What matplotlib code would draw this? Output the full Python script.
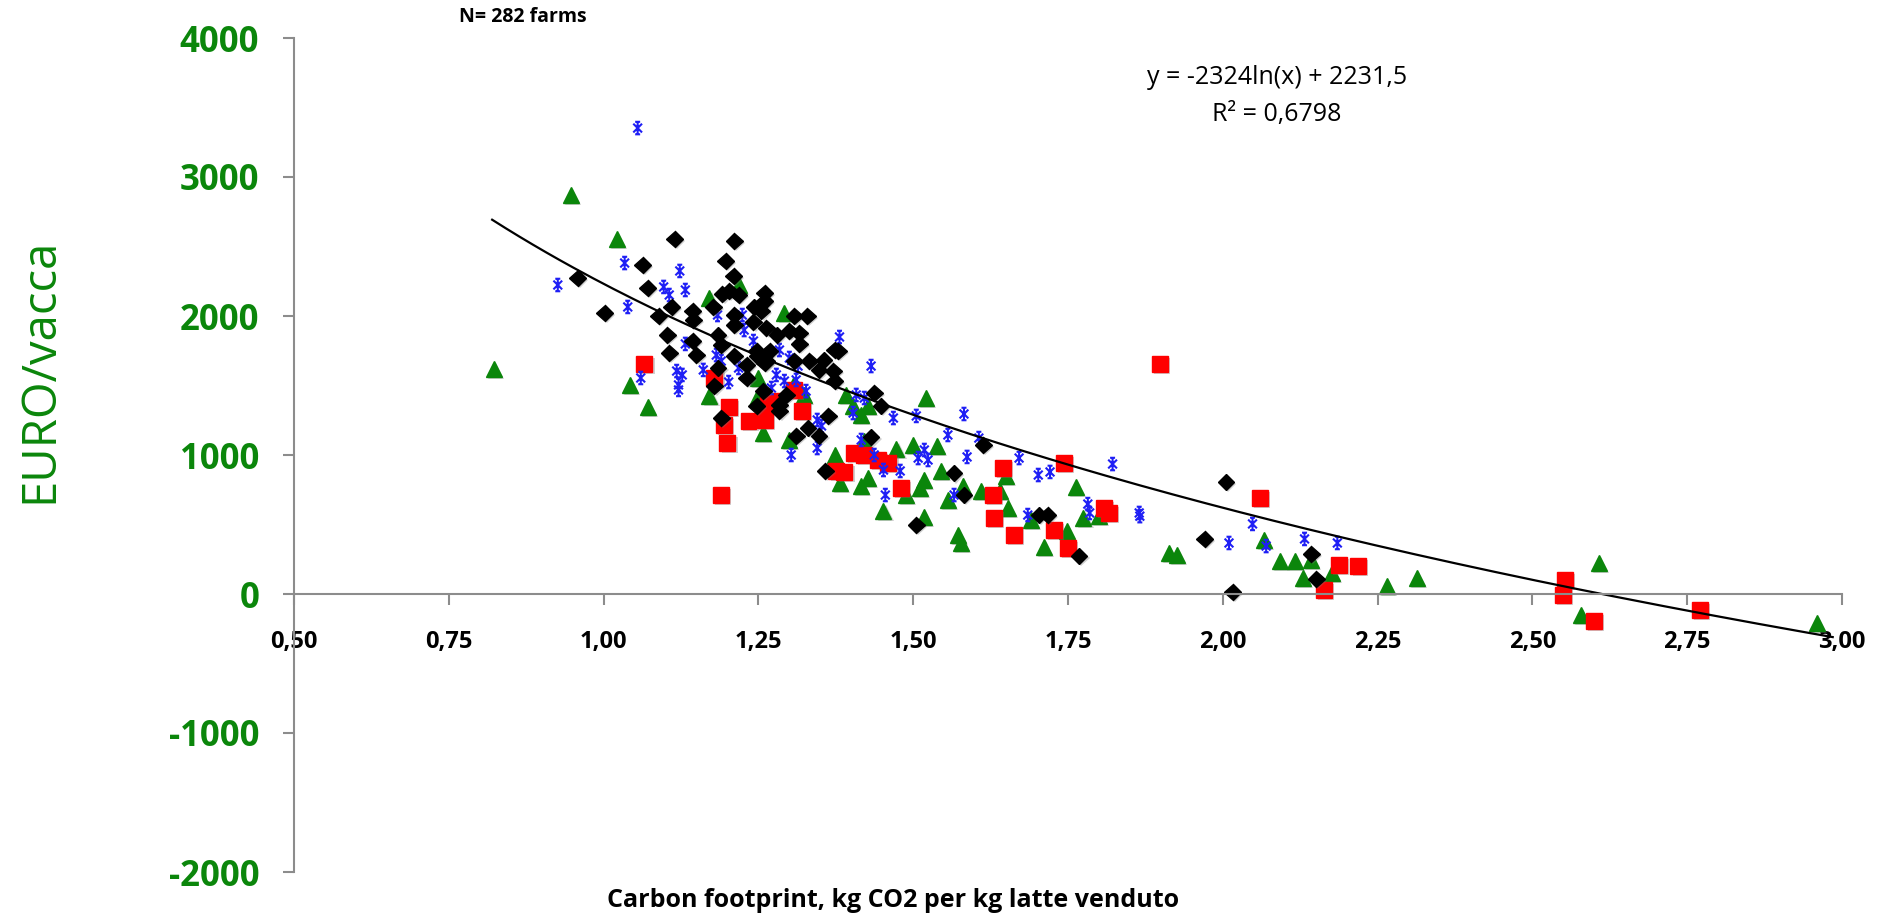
import numpy as np
import matplotlib
matplotlib.use("Agg")
from matplotlib import pyplot as plt
from matplotlib import patheffects as pe
from matplotlib.path import Path

plt.rcParams['font.family'] = ['Open Sans', 'DejaVu Sans']

# green triangles
g_x = [0.823, 0.947, 1.021, 1.042, 1.071, 1.171, 1.218, 1.171, 1.250, 1.247, 1.258, 1.292, 1.306, 1.323, 1.300,
       1.373, 1.381, 1.392, 1.403, 1.416, 1.427, 1.415, 1.427, 1.421, 1.452, 1.473, 1.489, 1.500, 1.511, 1.518,
       1.521, 1.539, 1.545, 1.556, 1.518, 1.573, 1.577, 1.580, 1.610, 1.640, 1.650, 1.653, 1.690, 1.711, 1.748,
       1.763, 1.775, 1.800, 1.913, 1.926, 2.066, 2.093, 2.116, 2.129, 2.143, 2.177, 2.265, 2.313, 2.579, 2.607,
       2.960]
g_y = [1619, 2870, 2554, 1504, 1345, 2129, 2223, 1424, 1554, 1410, 1158, 2022, 1496, 1432, 1108,
       1000, 799, 1432, 1353, 1288, 1353, 777, 834, 1100, 597, 1043, 712, 1072, 763, 820,
       1410, 1065, 885, 676, 554, 424, 367, 777, 741, 741, 849, 619, 532, 338, 453,
       770, 547, 561, 295, 281, 388, 237, 237, 115, 245, 151, 58, 115, -151, 223,
       -209]

# red squares
r_x = [1.066, 1.179, 1.190, 1.195, 1.200, 1.203, 1.234, 1.260, 1.266, 1.276, 1.308, 1.321, 1.376, 1.389,
       1.405, 1.420, 1.443, 1.460, 1.480, 1.629, 1.630, 1.645, 1.663, 1.727, 1.743, 1.750, 1.808, 1.816,
       1.898, 2.060, 2.163, 2.187, 2.219, 2.550, 2.553, 2.600, 2.770]
r_y = [1655, 1554, 712, 1216, 1086, 1345, 1245, 1252, 1360, 1388, 1468, 1317, 885, 878,
       1014, 1000, 964, 942, 763, 712, 547, 906, 424, 460, 942, 331, 619, 583,
       1655, 691, 29, 209, 201, -7, 101, -194, -115]

# black diamonds
k_x = [0.958, 1.002, 1.063, 1.071, 1.089, 1.103, 1.106, 1.110, 1.115, 1.144, 1.145, 1.144, 1.150, 1.177,
       1.179, 1.185, 1.185, 1.190, 1.190, 1.192, 1.197, 1.203, 1.210, 1.211, 1.211, 1.211, 1.211, 1.218,
       1.231, 1.231, 1.242, 1.243, 1.247, 1.247, 1.248, 1.255, 1.258, 1.260, 1.260, 1.260, 1.263, 1.263,
       1.268, 1.280, 1.284, 1.284, 1.295, 1.300, 1.308, 1.308, 1.311, 1.316, 1.316, 1.329, 1.330, 1.332,
       1.348, 1.348, 1.356, 1.358, 1.363, 1.371, 1.373, 1.373, 1.379, 1.432, 1.437, 1.448, 1.505, 1.566,
       1.582, 1.613, 1.703, 1.717, 1.768, 1.971, 2.005, 2.016, 2.143, 2.151]
k_y = [2273, 2022, 2367, 2201, 2000, 1863, 1734, 2065, 2554, 2036, 1971, 1820, 1719, 2065,
       1496, 1863, 1626, 1791, 1266, 2158, 2396, 2180, 2288, 2540, 2007, 1712, 1935, 2151,
       1647, 1554, 1957, 2065, 1748, 1353, 1712, 2036, 1460, 2165, 2108, 1662, 1914, 1676,
       1748, 1863, 1360, 1317, 1432, 1892, 2000, 1676, 1137, 1799, 1878, 2000, 1194, 1676,
       1612, 1137, 1683, 885, 1281, 1604, 1755, 1532, 1748, 1129, 1446, 1353, 496, 870,
       712, 1072, 568, 568, 273, 396, 806, 14, 288, 108]

# blue asterisks
b_x = [0.926, 1.034, 1.039, 1.055, 1.060, 1.097, 1.106, 1.118, 1.121, 1.121, 1.123, 1.127, 1.132, 1.132,
       1.161, 1.182, 1.184, 1.190, 1.202, 1.218, 1.224, 1.227, 1.242, 1.271, 1.279, 1.284, 1.292, 1.300,
       1.303, 1.311, 1.314, 1.327, 1.345, 1.345, 1.352, 1.381, 1.403, 1.408, 1.416, 1.421, 1.432, 1.437,
       1.452, 1.455, 1.468, 1.479, 1.505, 1.508, 1.518, 1.524, 1.556, 1.566, 1.582, 1.587, 1.606, 1.671,
       1.685, 1.702, 1.721, 1.782, 1.785, 1.822, 1.865, 1.866, 2.010, 2.048, 2.070, 2.132, 2.185]
b_y = [2223, 2381, 2065, 3352, 1554, 2209, 2151, 1604, 1504, 1468, 2324, 1576, 2187, 1799,
       1612, 1719, 2007, 1676, 1525, 1626, 2007, 1899, 1820, 1482, 1576, 1755, 1532, 1698,
       1000, 1540, 1640, 1460, 1252, 1050, 1209, 1849, 1302, 1432, 1108, 1410, 1640, 1000,
       892, 712, 1266, 885, 1281, 978, 1036, 964, 1144, 712, 1295, 986, 1122, 978,
       568, 856, 878, 647, 583, 935, 583, 560, 367, 504, 345, 396, 367]

# trend line y = -2324 ln(x) + 2231,5
coef_a = -2324
coef_b = 2231.5
trend_x = np.linspace(0.82, 2.985, 200)
trend_y = coef_a * np.log(trend_x) + coef_b

x_ticks = [0.50, 0.75, 1.00, 1.25, 1.50, 1.75, 2.00, 2.25, 2.50, 2.75, 3.00]
y_ticks = [-2000, -1000, 0, 1000, 2000, 3000, 4000]

# excel-like star marker (X + vertical bar with small caps)
star_verts = [(0, -1), (0, 1), (-0.7, -0.7), (0.7, 0.7), (-0.7, 0.7), (0.7, -0.7),
              (-0.4, 1), (0.4, 1), (-0.4, -1), (0.4, -1)]
star_codes = [Path.MOVETO, Path.LINETO] * 5
star = Path(star_verts, star_codes)

fig = plt.figure(figsize=(18.8, 9.22), dpi=100)
ax = fig.add_axes([294 / 1880, 1 - 872 / 922, (1842 - 294) / 1880, (872 - 38) / 922])

shadow = [pe.SimplePatchShadow(offset=(1.5, -1.5), shadow_rgbFace='#777777', alpha=0.35), pe.Normal()]

ax.plot(g_x, g_y, '^', color='#0b860b', markersize=11.5, linestyle='none', path_effects=shadow)
ax.plot(r_x, r_y, 's', color='#ff0000', markersize=11.5, linestyle='none', path_effects=shadow)
ax.plot(b_x, b_y, marker=star, color='#1f1ff5', markersize=9, markeredgewidth=1.5, fillstyle='none',
        linestyle='none', path_effects=shadow)
ax.plot(k_x, k_y, 'D', color='black', markersize=8.5, linestyle='none', path_effects=shadow)
ax.plot(trend_x, trend_y, color='black', linewidth=1.6)

ax.set_xlim(0.5, 3.0)
ax.set_ylim(-2000, 4000)

for s in ['top', 'right']:
    ax.spines[s].set_visible(False)
ax.spines['bottom'].set_position(('data', 0))
ax.spines['bottom'].set_color('#8c8c8c')
ax.spines['left'].set_color('#8c8c8c')
ax.spines['bottom'].set_linewidth(1.5)
ax.spines['left'].set_linewidth(1.5)

ax.set_xticks(x_ticks)
ax.set_xticklabels([('%.2f' % v).replace('.', ',') for v in x_ticks])
ax.set_yticks(y_ticks)
ax.set_yticklabels([str(v) for v in y_ticks])
ax.tick_params(axis='x', direction='out', length=8, width=1.5, color='#8c8c8c', pad=18,
               labelsize=17, labelcolor='black')
ax.tick_params(axis='y', direction='out', length=8, width=1.5, color='#8c8c8c', pad=17,
               labelsize=25, labelcolor='#0b860b')
for lab in ax.get_xticklabels():
    lab.set_fontweight('bold')
for lab in ax.get_yticklabels():
    lab.set_fontweight('bold')

fig.text(40 / 1880, 1 - 370 / 922, 'EURO/vacca', rotation=90, color='#0b860b', fontsize=34,
         ha='center', va='center')
fig.text(893 / 1880, 1 - 900 / 922, 'Carbon footprint, kg CO2 per kg latte venduto', fontsize=18,
         fontweight='bold', ha='center', va='center')
fig.text(459 / 1880, 1 - 17 / 922, 'N= 282 farms', fontsize=14, fontweight='bold', ha='left', va='center')
fig.text(1277 / 1880, 1 - 77 / 922, 'y = -2324ln(x) + 2231,5', fontsize=18, ha='center', va='center')
fig.text(1277 / 1880, 1 - 114 / 922, 'R² = 0,6798', fontsize=18, ha='center', va='center')

fig.savefig('out.png', dpi=100)
